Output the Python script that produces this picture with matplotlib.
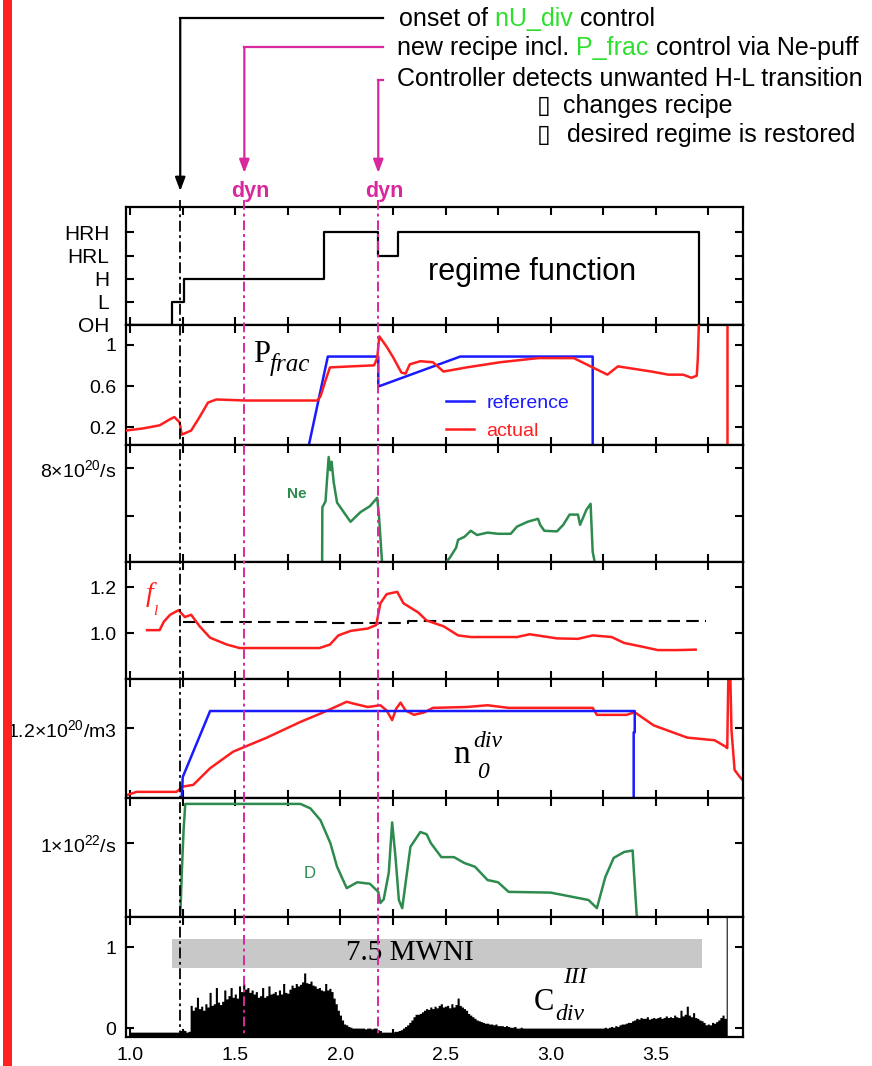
import numpy as np
import matplotlib
matplotlib.use('Agg')
import matplotlib.pyplot as plt
from matplotlib.lines import Line2D
from matplotlib.patches import Rectangle

plt.rcParams['font.family'] = ['Liberation Sans', 'DejaVu Sans']
plt.rcParams['mathtext.fontset'] = 'custom'
plt.rcParams['mathtext.rm'] = 'Liberation Sans'
plt.rcParams['mathtext.it'] = 'Liberation Sans:italic'

# ---------------- data ----------------
x_major = [1.0, 1.5, 2.0, 2.5, 3.0, 3.5]
x_major_labels = ['1.0', '1.5', '2.0', '2.5', '3.0', '3.5']
x_minor = [1.25, 1.75, 2.25, 2.75, 3.25, 3.75]
event_times = [1.238, 1.543, 2.18]          # onset nU_div control, dyn, dyn

regime_labels = ['OH', 'L', 'H', 'HRL', 'HRH']
regime_t = [0.98, 1.20, 1.257, 1.924, 2.18, 2.276, 3.705, 3.915]
regime_v = [0, 1, 2, 4, 3, 4, 0, 0]

pfrac_ref_t = [1.85, 1.94, 2.18, 2.18, 2.57, 3.20, 3.20]
pfrac_ref_v = [0.03, 0.885, 0.885, 0.595, 0.885, 0.885, 0.03]
pfrac_act_t = [0.98, 1.06, 1.14, 1.19, 1.21, 1.235, 1.245, 1.29, 1.33, 1.37, 1.41,
               1.55, 1.70, 1.89, 1.905, 1.93, 1.95, 2.05, 2.16, 2.175, 2.185, 2.22,
               2.25, 2.29, 2.31, 2.33, 2.38, 2.44, 2.49, 2.60, 2.76, 2.94, 3.11, 3.20,
               3.27, 3.32, 3.48, 3.56, 3.63, 3.67, 3.695, 3.70, 3.705]
pfrac_act_v = [0.17, 0.19, 0.22, 0.28, 0.30, 0.25, 0.13, 0.17, 0.30, 0.44, 0.47,
               0.46, 0.46, 0.46, 0.50, 0.66, 0.78, 0.79, 0.80, 0.87, 1.08, 0.98,
               0.88, 0.73, 0.72, 0.81, 0.84, 0.83, 0.74, 0.78, 0.83, 0.87, 0.87, 0.78,
               0.71, 0.79, 0.74, 0.71, 0.71, 0.68, 0.70, 0.86, 1.19]
pfrac_late_t = [3.84, 3.84]
pfrac_late_v = [0.0, 1.3]

ne_t = [1.913, 1.914, 1.929, 1.944, 1.952, 1.958, 1.968, 1.984, 2.048, 2.095, 2.140,
        2.175, 2.183, 2.198, np.nan,
        2.50, 2.52, 2.55, 2.56, 2.59, 2.62, 2.65, 2.70, 2.75, 2.81, 2.84, 2.89, 2.94,
        2.95, 2.97, 3.03, 3.06, 3.09, 3.13, 3.14, 3.17, 3.19, 3.20, 3.21]
ne_v = [0.1, 4.7, 5.2, 8.9, 7.8, 8.5, 6.8, 5.1, 3.5, 4.3, 4.8,
        5.5, 4.1, 0.1, np.nan,
        0.1, 0.5, 1.33, 2.0, 2.25, 2.75, 2.4, 2.6, 2.5, 2.5, 3.1, 3.5, 3.75,
        3.25, 2.75, 2.7, 3.25, 4.1, 4.1, 3.25, 4.5, 5.0, 1.0, 0.1]

fl_t = [1.08, 1.14, 1.16, 1.19, 1.23, 1.26, 1.29, 1.33, 1.38, 1.46, 1.52, 1.70, 1.90,
        1.95, 1.99, 2.05, 2.13, 2.17, 2.19, 2.22, 2.27, 2.30, 2.37, 2.41, 2.49, 2.56,
        2.62, 2.84, 2.90, 3.03, 3.13, 3.20, 3.29, 3.35, 3.44, 3.51, 3.60, 3.69]
fl_v = [1.013, 1.013, 1.05, 1.08, 1.10, 1.07, 1.08, 1.03, 0.98, 0.95, 0.935, 0.935, 0.935,
        0.95, 0.99, 1.01, 1.02, 1.035, 1.13, 1.17, 1.18, 1.13, 1.09, 1.055, 1.03, 0.99,
        0.983, 0.983, 0.995, 0.977, 0.975, 0.99, 0.983, 0.957, 0.94, 0.926, 0.926, 0.928]
fl_ref_t = [1.25, 1.95, 1.95, 2.32, 2.32, 3.74]
fl_ref_v = [1.050, 1.050, 1.043, 1.043, 1.053, 1.053]

n0_ref_t = [1.245, 1.25, 1.38, 3.40, 3.40, 3.395, 3.395]
n0_ref_v = [0.40, 0.64, 1.394, 1.394, 1.15, 1.15, 0.40]
n0_act_t = [0.98, 1.03, 1.22, 1.25, 1.30, 1.38, 1.49, 1.65, 1.81, 1.92, 2.03, 2.06,
            2.13, 2.19, 2.22, 2.246, 2.265, 2.286, 2.31, 2.35, 2.40, 2.44, 2.60, 2.70,
            2.80, 3.00, 3.20, 3.22, 3.36, 3.40, 3.49, 3.65, 3.78, 3.83, 3.84, 3.845,
            3.855, 3.86, 3.875, 3.90, 3.915]
n0_act_v = [0.43, 0.47, 0.47, 0.53, 0.55, 0.74, 0.93, 1.09, 1.27, 1.38, 1.50, 1.48,
            1.44, 1.46, 1.40, 1.29, 1.42, 1.49, 1.40, 1.35, 1.38, 1.43, 1.44, 1.46,
            1.43, 1.43, 1.43, 1.35, 1.35, 1.38, 1.23, 1.09, 1.06, 0.99, 0.97, 1.76,
            1.76, 1.18, 0.72, 0.64, 0.60]

d_t = [1.238, 1.246, 1.254, 1.262, 1.81, 1.857, 1.905, 1.952, 1.984, 2.03, 2.08, 2.14,
       2.18, 2.19, 2.206, 2.23, 2.246, 2.262, 2.278, 2.294, 2.31, 2.333, 2.38, 2.41,
       2.43, 2.48, 2.54, 2.59, 2.64, 2.70, 2.75, 2.80, 3.00, 3.18, 3.22, 3.26, 3.30,
       3.35, 3.39, 3.395, 3.41]
d_v = [0.0, 0.64, 1.18, 1.53, 1.53, 1.47, 1.31, 1.0, 0.68, 0.39, 0.47, 0.45,
       0.34, 0.19, 0.24, 0.60, 1.28, 0.81, 0.23, 0.12, 0.46, 0.95, 1.15, 1.12,
       1.0, 0.81, 0.81, 0.73, 0.68, 0.50, 0.47, 0.34, 0.33, 0.23, 0.12, 0.54, 0.80,
       0.88, 0.90, 0.66, 0.0]

# C_div^III signal, one value every 10 ms from t = 1.00 s
cdiv_v = [
    -0.05, -0.05, -0.05, -0.05, -0.05, -0.05, -0.05, -0.05, -0.05, -0.05,   # 1.0x
    -0.05, -0.05, -0.05, -0.05, -0.05, -0.05, -0.05, -0.05, -0.05, -0.05,   # 1.1x
    -0.05, -0.05, -0.05, -0.05, -0.03, -0.02, -0.03, -0.05, -0.04, 0.28,    # 1.2x
    0.22, 0.26, 0.38, 0.24, 0.27, 0.22, 0.30, 0.26, 0.44, 0.28,             # 1.3x
    0.30, 0.50, 0.32, 0.29, 0.33, 0.47, 0.36, 0.40, 0.50, 0.38,             # 1.4x
    0.42, 0.37, 0.52, 0.45, 0.55, 0.48, 0.50, 0.44, 0.47, 0.42,             # 1.5x
    0.45, 0.38, 0.40, 0.50, 0.38, 0.40, 0.52, 0.42, 0.43, 0.45,             # 1.6x
    0.41, 0.47, 0.42, 0.55, 0.44, 0.43, 0.48, 0.53, 0.50, 0.55,             # 1.7x
    0.52, 0.54, 0.57, 0.68, 0.56, 0.55, 0.58, 0.53, 0.52, 0.49,             # 1.8x
    0.50, 0.47, 0.46, 0.55, 0.47, 0.49, 0.45, 0.37, 0.30, 0.22,             # 1.9x
    0.16, 0.10, 0.05, 0.04, 0.02, 0.01, 0.00, 0.00, 0.00, 0.00,             # 2.0x
    0.00, 0.00, -0.01, 0.00, 0.00, -0.01, 0.00, 0.00, -0.02, -0.03,         # 2.1x
    -0.05, -0.05, -0.05, -0.05, -0.05, -0.05, -0.04, -0.04, -0.03, -0.02,   # 2.2x
    0.00, 0.02, 0.04, 0.07, 0.10, 0.14, 0.17, 0.17, 0.18, 0.20,             # 2.3x
    0.22, 0.24, 0.23, 0.26, 0.24, 0.27, 0.25, 0.28, 0.30, 0.26,             # 2.4x
    0.27, 0.28, 0.25, 0.30, 0.26, 0.29, 0.37, 0.28, 0.26, 0.24,             # 2.5x
    0.22, 0.18, 0.16, 0.14, 0.12, 0.10, 0.09, 0.08, 0.07, 0.06,             # 2.6x
    0.06, 0.05, 0.05, 0.04, 0.05, 0.03, 0.03, 0.03, 0.02, 0.03,             # 2.7x
    0.02, 0.01, 0.01, 0.02, 0.00, 0.00, 0.01, 0.00, 0.00, 0.00,             # 2.8x
    0.00, 0.00, 0.00, 0.00, 0.00, 0.00, 0.00, 0.00, 0.00, 0.00,             # 2.9x
    0.00, 0.00, 0.00, 0.00, 0.00, 0.00, 0.00, 0.00, 0.00, 0.00,             # 3.0x
    0.00, 0.00, 0.00, 0.00, 0.00, 0.00, 0.00, 0.00, 0.00, 0.00,             # 3.1x
    0.00, 0.00, 0.00, 0.00, 0.00, 0.00, 0.01, 0.00, 0.01, 0.02,             # 3.2x
    0.01, 0.03, 0.02, 0.04, 0.05, 0.05, 0.06, 0.07, 0.07, 0.09,             # 3.3x
    0.10, 0.12, 0.11, 0.13, 0.12, 0.12, 0.14, 0.11, 0.12, 0.13,             # 3.4x
    0.12, 0.13, 0.14, 0.12, 0.13, 0.15, 0.13, 0.14, 0.13, 0.16,             # 3.5x
    0.14, 0.13, 0.22, 0.15, 0.17, 0.27, 0.16, 0.14, 0.19, 0.13,             # 3.6x
    0.12, 0.10, 0.09, 0.07, 0.04, 0.05, 0.04, 0.07, 0.06, 0.08,             # 3.7x
    0.10, 0.13, 0.16, 0.12, 1.60,                                           # 3.8x
]
cdiv_t = np.round(1.0 + 0.01 * np.arange(len(cdiv_v)), 2)
nbi_t = [1.20, 3.72]
nbi_lo = [0.745, 0.745]
nbi_hi = [1.10, 1.10]
nbi_label = '7.5 MWNI'

# ---------------- styling ----------------
W, H = 872, 1066
RED = '#ff1e1e'
BLUE = '#1a1aff'
GREEN = '#2e8b4e'
MAG = '#d8289e'
LW = 1.8
TICKFS = 14
SERIF = ['Liberation Serif', 'DejaVu Serif']

fig = plt.figure(figsize=(W / 100, H / 100), dpi=100)
fig.patch.set_facecolor('white')

edges = [207, 325, 445, 562, 679, 798, 917, 1037]
left_px, right_px = 126, 743
axes = []
for i in range(7):
    b = 1 - edges[i + 1] / H
    h = (edges[i + 1] - edges[i]) / H
    ax = fig.add_axes([left_px / W, b, (right_px - left_px) / W, h])
    axes.append(ax)

for k, ax in enumerate(axes):
    ax.set_xlim(0.98, 3.915)
    ax.set_xticks(x_major)
    ax.set_xticks(x_minor, minor=True)
    if k == 6:
        ax.set_xticklabels(x_major_labels, fontsize=TICKFS)
    else:
        ax.set_xticklabels([])
    ax.tick_params(axis='both', which='both', direction='in', top=True, right=True,
                   length=6, width=1.5, labelsize=TICKFS, pad=7)
    for s in ax.spines.values():
        s.set_linewidth(1.6)

ax_reg, ax_pf, ax_ne, ax_fl, ax_n0, ax_d, ax_c = axes

# regime
ax_reg.plot(regime_t, regime_v, drawstyle='steps-post', color='black', lw=1.6)
ax_reg.set_ylim(0, 5.1)
ax_reg.set_yticks(range(len(regime_labels)))
ax_reg.set_yticklabels(regime_labels, fontsize=15)
ax_reg.tick_params(axis='y', pad=12)
ax_reg.text(2.91, 2.3, 'regime function', fontsize=22, ha='center', va='center')

# P_frac
ax_pf.plot(pfrac_act_t, pfrac_act_v, color=RED, lw=LW, label='actual', zorder=3)
ax_pf.plot(pfrac_late_t, pfrac_late_v, color=RED, lw=LW)
ax_pf.plot(pfrac_ref_t, pfrac_ref_v, color=BLUE, lw=LW, label='reference', zorder=2)
ax_pf.set_ylim(0.03, 1.19)
ax_pf.set_yticks([0.2, 0.6, 1.0])
ax_pf.set_yticklabels(['0.2', '0.6', '1'])
h, l = ax_pf.get_legend_handles_labels()
ax_pf.legend([h[1], h[0]], [l[1], l[0]], loc='upper left', bbox_to_anchor=(0.518, 0.42),
             frameon=False, fontsize=14, handlelength=1.45, handletextpad=0.65,
             borderpad=0, borderaxespad=0, labelspacing=0.5, labelcolor='linecolor')
ax_pf.text(1.585, 0.83, 'P', fontsize=22, family=SERIF, va='baseline')
ax_pf.text(1.665, 0.745, 'frac', fontsize=18, family=SERIF, style='italic', va='baseline')

# Ne
ax_ne.plot(ne_t, ne_v, color=GREEN, lw=LW)
ax_ne.set_ylim(0.15, 9.9)
ax_ne.set_yticks([4, 8])
ax_ne.set_yticklabels(['', '8×10$^{20}$/s'])
ax_ne.text(1.748, 5.5, 'Ne', color=GREEN, fontsize=11, fontweight='bold', va='baseline')

# f_l
ax_fl.plot(fl_ref_t, fl_ref_v, color='black', lw=1.5, dashes=(6, 3))
ax_fl.plot(fl_t, fl_v, color=RED, lw=LW)
ax_fl.set_ylim(0.8, 1.31)
ax_fl.set_yticks([1.0, 1.2])
ax_fl.set_yticklabels(['1.0', '1.2'])
ax_fl.text(1.072, 1.14, 'f', color=RED, fontsize=20, family=SERIF, style='italic', va='baseline')
ax_fl.text(1.108, 1.078, 'l', color=RED, fontsize=11, family=SERIF, style='italic', va='baseline')

# n0 div
ax_n0.plot(n0_act_t, n0_act_v, color=RED, lw=LW)
ax_n0.plot(n0_ref_t, n0_ref_v, color=BLUE, lw=LW)
ax_n0.set_ylim(0.4, 1.76)
ax_n0.set_yticks([1.2])
ax_n0.set_yticklabels(['1.2×10$^{20}$/m3'])
ax_n0.text(2.538, 0.80, 'n', fontsize=24, family=SERIF, va='baseline')
ax_n0.text(2.633, 0.98, 'div', fontsize=17, family=SERIF, style='italic', va='baseline')
ax_n0.text(2.652, 0.63, '0', fontsize=17, family=SERIF, style='italic', va='baseline')

# D
ax_d.plot(d_t, d_v, color=GREEN, lw=LW)
ax_d.set_ylim(0, 1.61)
ax_d.set_yticks([1.0])
ax_d.set_yticklabels(['1×10$^{22}$/s'])
ax_d.text(1.824, 0.53, 'D', color=GREEN, fontsize=12, va='baseline')

# C_div
ax_c.fill_between(nbi_t, nbi_lo, nbi_hi, color='#c8c8c8', lw=0, zorder=1)
ax_c.text(np.mean(nbi_t) - 0.13, np.mean([nbi_lo[0], nbi_hi[0]]), nbi_label,
          fontsize=21, family=SERIF, ha='center', va='center', zorder=2)
ax_c.fill_between(cdiv_t, cdiv_v, -0.2, step='mid', color='black', lw=0, zorder=3)
ax_c.set_ylim(-0.11, 1.37)
ax_c.set_yticks([0, 1])
ax_c.set_yticklabels(['0', '1'])
ax_c.text(2.919, 0.22, 'C', fontsize=22, family=SERIF, va='baseline', zorder=4)
ax_c.text(3.024, 0.10, 'div', fontsize=17, family=SERIF, style='italic', va='baseline', zorder=4)
ax_c.text(3.057, 0.55, 'III', fontsize=17, family=SERIF, style='italic', va='baseline', zorder=4)

# ---------------- annotations (figure level) ----------------
def fy(py):
    return 1 - py / H

inv = fig.transFigure.inverted()
ev_fx = [inv.transform(ax_reg.transData.transform((t, 0)))[0] for t in event_times]

# left red bar
fig.add_artist(Rectangle((3 / W, 0), 9 / W, 1, transform=fig.transFigure,
                         color='#ff2020', lw=0))

# vertical event lines through all panels
fig.add_artist(Line2D([ev_fx[0], ev_fx[0]], [fy(200), fy(1037)], transform=fig.transFigure,
                      color='black', lw=1.3, dashes=(6, 2, 1.5, 2), zorder=5))
for fx in ev_fx[1:]:
    fig.add_artist(Line2D([fx, fx], [fy(200), fy(1037)], transform=fig.transFigure,
                          color=MAG, lw=1.4, dashes=(5, 2, 1.5, 2), zorder=5))

# leader lines and arrows
leaders = [(ev_fx[0], 18, 191, 'black'), (ev_fx[1], 47, 173, MAG), (ev_fx[2], 80, 173, MAG)]
for fx, ytop, ytip, col in leaders:
    fig.add_artist(Line2D([fx, 383 / W], [fy(ytop), fy(ytop)], transform=fig.transFigure,
                          color=col, lw=1.6))
    ax_reg.annotate('', xy=(fx, fy(ytip)), xycoords='figure fraction',
                    xytext=(fx, fy(ytop)), textcoords='figure fraction',
                    arrowprops=dict(arrowstyle='-|>,head_length=0.8,head_width=0.3',
                                    color=col, lw=1.6, shrinkA=0, shrinkB=0),
                    annotation_clip=False)
for fx in ev_fx[1:]:
    fig.text(fx + 6 / W, fy(191), 'dyn', color=MAG, fontsize=15.5, fontweight='bold',
             ha='center', va='center')

FS = 18
def chain(pieces, x0, y0):
    prev = None
    for txt, col in pieces:
        if prev is None:
            prev = ax_reg.annotate(txt, xy=(x0 / W, fy(y0)), xycoords='figure fraction',
                                   va='center', ha='left', fontsize=FS, color=col,
                                   annotation_clip=False)
        else:
            prev = ax_reg.annotate(txt, xy=(1, 0), xycoords=prev, va='bottom', ha='left',
                                   fontsize=FS, color=col, annotation_clip=False)

GRN = '#2ee02e'
chain([('onset of', 'black'), (' nU_div', GRN), (' control', 'black')], 399, 19)
chain([('new recipe incl.', 'black'), (' P_frac', GRN), (' control via Ne-puff', 'black')], 397, 48)
chain([('Controller detects unwanted H-L transition', 'black')], 397, 79)
fig.text(537 / W, fy(106), '▯', fontsize=FS, family=['DejaVu Sans'], va='center')
fig.text(563 / W, fy(106), 'changes recipe', fontsize=FS, va='center')
fig.text(537 / W, fy(135), '▯', fontsize=FS, family=['DejaVu Sans'], va='center')
fig.text(567 / W, fy(135), 'desired regime is restored', fontsize=FS, va='center')

fig.savefig('out.png', dpi=100, facecolor='white')
